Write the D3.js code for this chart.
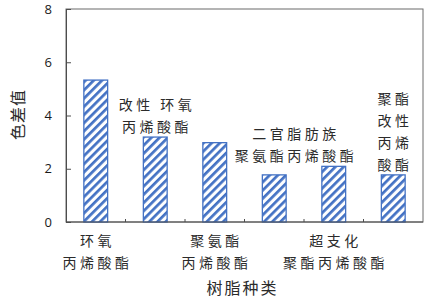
<!DOCTYPE html>
<html>
<head>
<meta charset="utf-8">
<script src="https://cdn.jsdelivr.net/npm/d3@7"></script>
<style>
  html, body { margin: 0; padding: 0; background: #fff; }
  svg { display: block; }
  .cjk { font-family: "Noto Sans CJK SC", sans-serif; fill: #2b2b2b; }
  .num { font-family: "Open Sans", "Liberation Sans", sans-serif; fill: #1a1a1a; }
</style>
</head>
<body>
<svg id="chart" width="425" height="307"></svg>
<script>
// Resin types and their colour difference values
const categories = ["环氧丙烯酸酯", "改性环氧丙烯酸酯", "聚氨酯丙烯酸酯", "二官脂肪族聚氨酯丙烯酸酯", "超支化聚酯丙烯酸酯", "聚酯改性丙烯酸酯"];
const values = [5.33, 3.19, 2.98, 1.77, 2.09, 1.77];
// Category names split into display lines; "below" labels sit under the axis, "above" ones over the bar
const labelLines = [
  ["环氧", "丙烯酸酯"],
  ["改性 环氧", "丙烯酸酯"],
  ["聚氨酯", "丙烯酸酯"],
  ["二官脂肪族", "聚氨酯丙烯酸酯"],
  ["超支化", "聚酯丙烯酸酯"],
  ["聚酯", "改性", "丙烯", "酸酯"]
];
const labelSide = ["below", "above", "below", "above", "below", "above"];
const yTicks = [0, 2, 4, 6, 8];
const yTitle = "色差值";
const xTitle = "树脂种类";

const svg = d3.select("#chart");
const margin = { left: 66, right: 2, top: 9, bottom: 85 };
const W = 425, H = 307;
const plotW = W - margin.left - margin.right;
const plotH = H - margin.top - margin.bottom;

const x = d3.scaleBand().domain(categories).range([margin.left, margin.left + plotW])
  .paddingInner(0.6).paddingOuter(0.3);
const y = d3.scaleLinear().domain([0, 8]).range([margin.top + plotH, margin.top]);

// Diagonal hatch fill
const defs = svg.append("defs");
const pat = defs.append("pattern")
  .attr("id", "hatch").attr("patternUnits", "userSpaceOnUse")
  .attr("width", 5.8).attr("height", 5.8)
  .attr("patternTransform", "rotate(45)");
pat.append("rect").attr("width", 5.8).attr("height", 5.8).attr("fill", "#fff");
pat.append("rect").attr("x", 0).attr("width", 2.7).attr("height", 5.8).attr("fill", "#4472C4");

// Plot frame
svg.append("rect")
  .attr("x", margin.left).attr("y", margin.top)
  .attr("width", plotW).attr("height", plotH)
  .attr("fill", "none").attr("stroke", "#6b6b6b").attr("stroke-width", 1);

// Bars
svg.append("g").selectAll("rect").data(categories).join("rect")
  .attr("x", d => x(d))
  .attr("y", (d, i) => y(values[i]))
  .attr("width", x.bandwidth())
  .attr("height", (d, i) => y(0) - y(values[i]))
  .attr("fill", "url(#hatch)")
  .attr("stroke", "#4472C4").attr("stroke-width", 1.3);

// Y axis with inward ticks
const yAxis = d3.axisLeft(y).tickValues(yTicks).tickSize(-5).tickPadding(14).tickFormat(d3.format("d"));
const gy = svg.append("g").attr("transform", `translate(${margin.left},0)`).call(yAxis);
gy.select(".domain").attr("stroke", "#4d4d4d");
gy.selectAll(".tick line").attr("stroke", "#4d4d4d");
gy.selectAll(".tick text").attr("class", "num").attr("font-size", 13).attr("fill", "#1a1a1a");

// X axis: short inward ticks at category boundaries
const step = x.step();
const bounds = d3.range(1, categories.length).map(i => x(categories[i]) - step * x.paddingInner() / 2);
svg.append("line")
  .attr("x1", margin.left).attr("x2", margin.left + plotW)
  .attr("y1", y(0)).attr("y2", y(0)).attr("stroke", "#4d4d4d");
svg.append("g").selectAll("line").data(bounds).join("line")
  .attr("x1", d => d).attr("x2", d => d)
  .attr("y1", y(0)).attr("y2", y(0) - 3)
  .attr("stroke", "#4d4d4d");

// Category labels
const lineGap = 22;
const aboveShift = [0, 0, 0, 20, 0, 0];
categories.forEach((c, i) => {
  const lines = labelLines[i];
  const cx = x(c) + x.bandwidth() / 2 + aboveShift[i];
  let y0;
  if (labelSide[i] === "below") {
    y0 = y(0) + 18;
  } else {
    // stack lines upward so the last line sits just above the nearby bar tops
    const ref = i === 3 ? Math.max(values[3], values[4]) : values[i];
    y0 = y(ref) - 11 - (lines.length - 1) * lineGap;
  }
  const t = svg.append("text").attr("class", "cjk")
    .attr("font-size", 14).attr("letter-spacing", 3.5)
    .attr("text-anchor", "middle");
  lines.forEach((ln, k) => {
    t.append("tspan").attr("x", cx + 1.75).attr("y", y0 + k * lineGap)
      .attr("dominant-baseline", "central").text(ln);
  });
});

// Axis titles
svg.append("text").attr("class", "cjk")
  .attr("font-size", 16).attr("letter-spacing", 2)
  .attr("text-anchor", "middle").attr("dominant-baseline", "central")
  .attr("x", margin.left + plotW / 2 - 2).attr("y", 287)
  .text(xTitle);

svg.append("text").attr("class", "cjk")
  .attr("font-size", 16).attr("letter-spacing", 1)
  .attr("text-anchor", "middle").attr("dominant-baseline", "central")
  .attr("transform", `translate(17,${margin.top + plotH / 2 - 1}) rotate(-90)`)
  .text(yTitle);
</script>
</body>
</html>
